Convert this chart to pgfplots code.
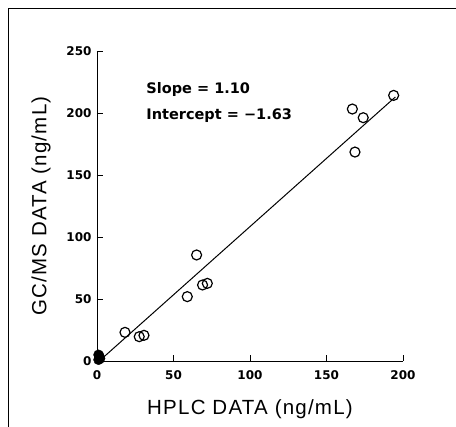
\documentclass[border=0pt]{standalone}
\usepackage{fontspec}
\setmainfont{Liberation Sans}
\newfontfamily\tickfont{DejaVu Sans}
\usepackage{pgfplots}
\pgfplotsset{compat=1.18}

\begin{document}
\begin{tikzpicture}[x=1pt,y=1pt]
\useasboundingbox (0,0) rectangle (456,427);
\draw[line width=0.7pt] (8,0) -- (8,419) -- (456,419);
\begin{axis}[
  at={(97pt,66pt)},
  anchor=south west,
  scale only axis,
  width=306pt,
  height=310pt,
  xmin=0, xmax=200,
  ymin=0, ymax=250,
  axis x line*=bottom,
  axis y line*=left,
  axis line style={line width=0.9pt},
  xtick={0,50,100,150,200},
  ytick={0,50,100,150,200,250},
  tick style={black, line width=0.9pt},
  major tick length=6pt,
  tick align=inside,
  ticklabel style={font=\tickfont\fontsize{12}{14}\selectfont\bfseries},
  xticklabel style={yshift=-6pt},
  yticklabel style={xshift=-2pt},
  /pgf/number format/assume math mode=true,
  xlabel={HPLC DATA (ng/mL)},
  ylabel={GC/MS DATA (ng/mL)},
  label style={font=\fontsize{20.5}{24}\selectfont\addfontfeatures{LetterSpace=6}},
  xlabel style={yshift=-13pt},
  ylabel style={yshift=9pt},
  clip=false,
]
% regression line
\addplot[black, line width=1pt] coordinates {(1.5,0.02) (195,212.9)};
% measured points
\addplot[only marks, mark=o, mark size=5pt, mark options={line width=1.2pt}] coordinates {
  (18.3,23.1) (27.6,19.6) (30.7,20.7)
  (59.0,51.9) (65.1,85.5) (69.0,61.3) (72.1,62.6)
  (166.9,203.2) (168.6,168.5) (174.0,196.2) (193.9,214.2)
};
% cluster at the origin
\addplot[only marks, mark=*, mark size=5pt] coordinates {
  (1,1) (1.5,3) (1,5) (2,2) (1.5,4)
};
\node[anchor=west, font=\tickfont\fontsize{14.5}{17}\selectfont\bfseries] at (axis cs:30,219) {Slope = 1.10};
\node[anchor=west, font=\tickfont\fontsize{14.5}{17}\selectfont\bfseries] at (axis cs:30,198) {Intercept = −1.63};
\end{axis}
\end{tikzpicture}
\end{document}
